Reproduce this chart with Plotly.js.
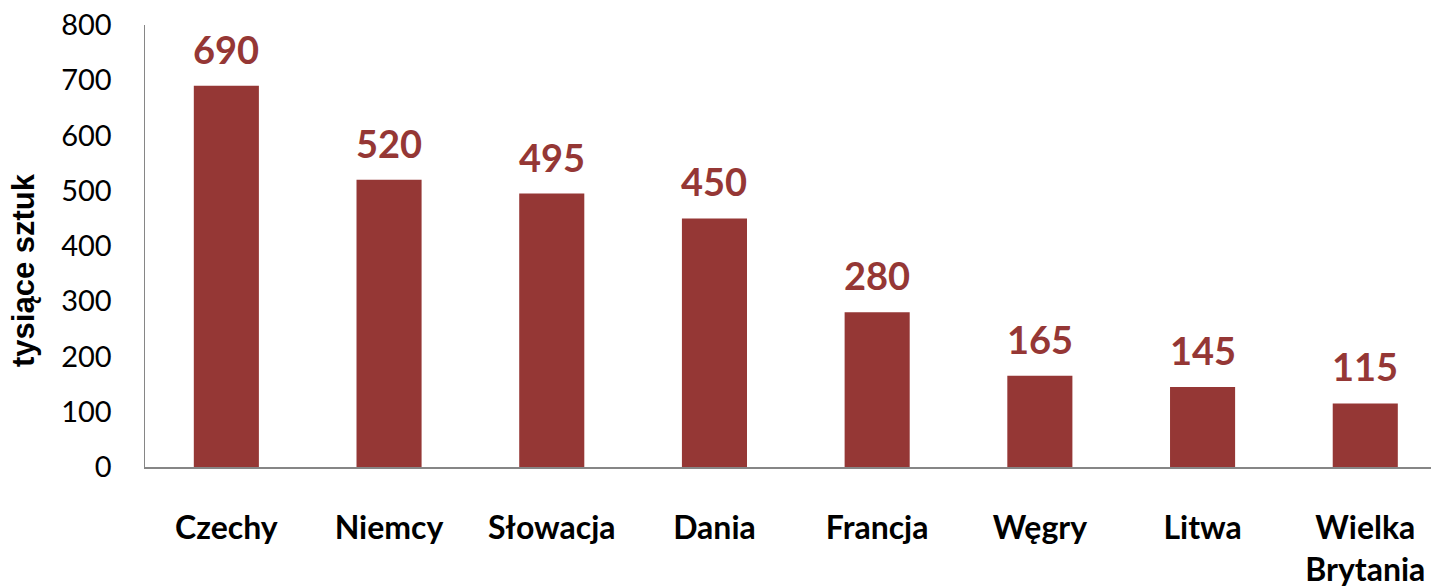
<!DOCTYPE html>
<html>
<head>
<meta charset="utf-8">
<script src="https://cdn.plot.ly/plotly-3.0.1.min.js"></script>
<style>
  body { margin: 0; background: #fff; }
  #chart { width: 1431px; height: 588px; }
</style>
</head>
<body>
<div id="chart"></div>
<script>
// data
const countries = ['Czechy', 'Niemcy', 'Słowacja', 'Dania', 'Francja', 'Węgry', 'Litwa', 'Wielka<br>Brytania'];
const values = [690, 520, 495, 450, 280, 165, 145, 115];
const yTicks = [0, 100, 200, 300, 400, 500, 600, 700, 800];
const yTitle = 'tysiące sztuk';

const barColor = '#953735';
const axisColor = '#868686';

const trace = {
  type: 'bar',
  x: countries,
  y: values,
  marker: { color: barColor, line: { width: 0 } },
  hoverinfo: 'x+y'
};

// value labels above bars
const labels = countries.map(function (c, i) {
  return {
    x: c,
    y: values[i],
    xref: 'x',
    yref: 'y',
    text: String(values[i]),
    showarrow: false,
    yanchor: 'bottom',
    yshift: 12,
    font: { family: 'Lato, "Open Sans", sans-serif', size: 38, color: barColor, weight: 'bold' }
  };
});

// y title sits a bit below the middle of the axis, like in the original
labels.push({
  xref: 'paper',
  yref: 'paper',
  x: -0.094,
  y: 0.446,
  text: yTitle,
  textangle: -90,
  showarrow: false,
  xanchor: 'center',
  yanchor: 'middle',
  font: { family: '"Liberation Sans", Arial, sans-serif', size: 31, color: '#000', weight: 'bold' }
});

const layout = {
  width: 1431,
  height: 588,
  margin: { l: 145, r: 0, t: 25, b: 121 },
  paper_bgcolor: '#ffffff',
  plot_bgcolor: '#ffffff',
  showlegend: false,
  bargap: 0.6,
  xaxis: {
    type: 'category',
    range: [-0.5, 7.404],
    showline: true,
    linecolor: axisColor,
    linewidth: 2,
    ticks: '',
    ticklabelstandoff: 32,
    showgrid: false,
    zeroline: false,
    tickfont: { family: 'Lato, "Open Sans", sans-serif', size: 32, color: '#000', weight: 'bold' }
  },
  yaxis: {
    range: [0, 800],
    tickvals: yTicks,
    showline: true,
    linecolor: axisColor,
    linewidth: 1.5,
    ticks: '',
    ticklabelstandoff: 26,
    showgrid: false,
    zeroline: false,
    tickfont: { family: 'Lato, "Open Sans", sans-serif', size: 29, color: '#000' }
  },
  annotations: labels
};

Plotly.newPlot('chart', [trace], layout, { displayModeBar: false, staticPlot: true });
</script>
</body>
</html>
